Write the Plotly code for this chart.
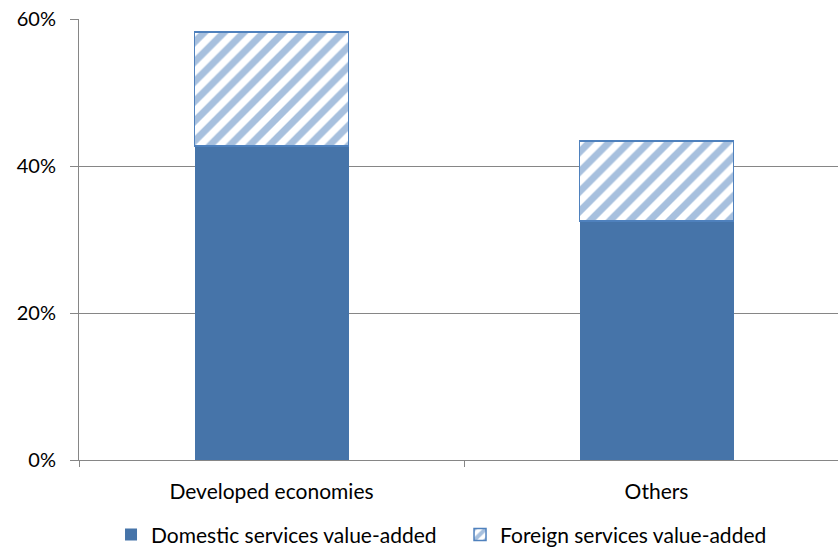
import plotly.graph_objects as go

categories = ["Developed economies", "Others"]
domestic = [0.427, 0.325]
foreign = [0.155, 0.109]

FONT = "Lato"
fig = go.Figure()
fig.add_trace(go.Bar(
    x=categories, y=domestic, name="Domestic services value-added",
    marker=dict(color="#4674A9", line=dict(width=0)), width=0.4,
))
fig.add_trace(go.Bar(
    x=categories, y=foreign, name="Foreign services value-added",
    marker=dict(color="white", line=dict(color="#4F81BD", width=1.5),
                pattern=dict(shape="/", fgcolor="#4F81BD", bgcolor="white",
                             size=14, solidity=0.5)),
    width=0.4,
))
fig.update_layout(
    barmode="stack",
    width=838, height=549,
    margin=dict(l=79, r=0, t=19, b=89, autoexpand=False),
    paper_bgcolor="white", plot_bgcolor="white",
    font=dict(family=FONT, size=21, color="black"),
    showlegend=True,
    legend=dict(orientation="h", traceorder="normal",
                x=0.502, xanchor="center", yref="container", y=0.026, yanchor="middle",
                font=dict(size=21), itemwidth=30, tracegroupgap=0,
                entrywidthmode="pixels", entrywidth=304),
    bargap=0.6,
)
fig.update_xaxes(
    range=[-0.5, 1.4714], showline=True, linecolor="#868686", linewidth=1,
    ticks="outside", tickson="boundaries", ticklen=6, tickcolor="#868686",
    showgrid=False, tickfont=dict(size=21), ticklabelstandoff=13,
)
fig.update_yaxes(
    range=[0, 0.6], dtick=0.2, tickformat=".0%", showgrid=True,
    gridcolor="#868686", gridwidth=1, showline=True, linecolor="#868686",
    linewidth=1, ticks="outside", ticklen=8, tickcolor="#868686",
    tickfont=dict(size=20), zeroline=False, ticklabelstandoff=10,
)
fig.write_html("out.html")
